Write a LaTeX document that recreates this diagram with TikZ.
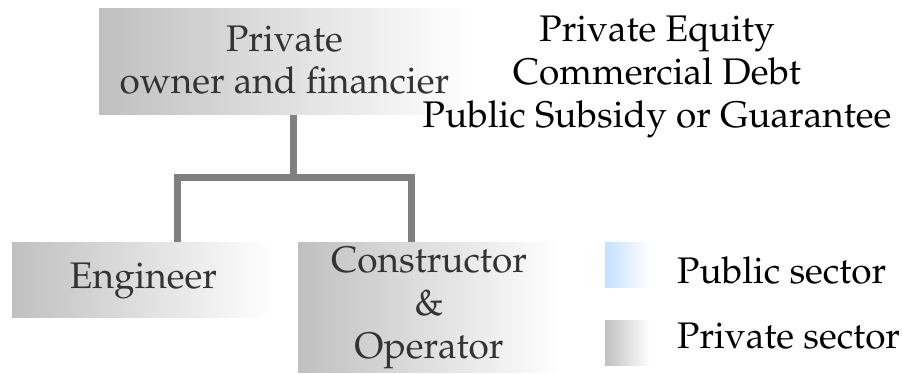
\documentclass[tikz,border=0pt]{standalone}
\usepackage[T1]{fontenc}
\renewcommand{\rmdefault}{ppl}
\begin{document}
\begin{tikzpicture}[x=1pt,y=-1pt,
  box/.style={inner sep=0pt,outer sep=0pt,left color={rgb,255:red,192;green,192;blue,192},right color=white,align=center,text=black!80,text depth=10pt},
  conn/.style={line width=7pt,draw={rgb,255:red,128;green,128;blue,128}},
  txt/.style={inner sep=0pt,align=center,font=\fontsize{37}{43}\selectfont},
  legsq/.style={inner sep=0pt,minimum width=45pt,minimum height=45pt,right color=white}]
\useasboundingbox (0,0) rectangle (902,374);
\node[box,minimum width=371pt,minimum height=106pt,text height=74pt,font=\fontsize{37}{42}\selectfont] (top) at (284.5,62) {Private\\owner and financier};
\node[box,minimum width=263pt,minimum height=75pt,text height=27pt,font=\fontsize{37}{42}\selectfont] (eng) at (143.5,279.5) {Engineer};
\node[box,minimum width=262pt,minimum height=130pt,text height=112pt,font=\fontsize{37}{43}\selectfont] (con) at (429,307) {Constructor\\\&\\Operator};
\coordinate (jn) at (293,178);
\coordinate (ex) at (177,178);
\coordinate (cx) at (411,178);
\draw[conn] (jn |- top.south) -- (jn);
\draw[conn] (ex |- eng.north) -- (ex) -- (cx) -- (cx |- con.north);
\node[txt] (fin) at (657,77) {Private Equity\\Commercial Debt\\Public Subsidy or Guarantee};
\node[legsq,left color={rgb,255:red,196;green,224;blue,255}] (pub) at (627.5,264.5) {};
\node[legsq,left color={rgb,255:red,192;green,192;blue,192}] (pri) at (627.5,342.5) {};
\node[txt,anchor=base west] (publ) at (677,283) {Public sector};
\node[txt,anchor=base west] (pril) at (677,348) {Private sector};
\end{tikzpicture}
\end{document}
